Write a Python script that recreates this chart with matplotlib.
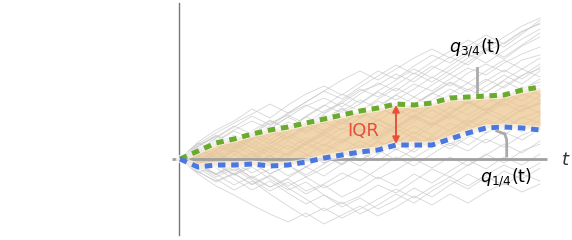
import matplotlib
matplotlib.use("Agg")
import matplotlib.pyplot as plt
import numpy as np

# time grid (steps)
t = [0, 2, 4, 6, 8, 10, 12, 14, 16, 18, 20, 22, 24, 26, 28, 30, 32, 34, 36, 38, 40]

# sample paths (values read approximately)
paths = [
    [0,1.2,0.5,1.8,2.6,1.9,3.0,4.2,3.5,4.8,5.9,5.1,6.4,7.5,6.8,8.0,9.1,8.4,9.6,10.5,11.2],
    [0,-0.8,-1.5,-0.6,-1.9,-2.8,-2.0,-3.2,-2.5,-1.4,-2.2,-1.0,0.2,-0.7,0.5,1.6,0.8,2.0,1.2,2.4,3.1],
    [0,0.9,2.0,1.2,2.5,3.6,4.4,3.5,4.8,5.6,6.8,7.4,8.5,7.7,9.0,10.2,9.4,10.8,11.6,12.8,13.5],
    [0,-1.1,-0.3,0.8,-0.2,1.0,0.3,1.5,2.4,1.6,2.8,3.9,3.0,4.1,3.3,4.5,5.6,4.8,6.0,5.2,6.3],
    [0,0.6,-0.5,-1.6,-0.8,-2.0,-3.1,-2.3,-3.6,-4.5,-3.7,-2.6,-3.4,-2.2,-1.0,-1.8,-0.6,0.5,-0.4,0.8,1.5],
    [0,1.4,2.2,3.3,2.5,3.8,3.0,4.3,5.4,4.6,5.5,6.7,5.9,7.0,8.2,7.3,8.6,9.5,8.7,9.9,10.4],
    [0,-0.5,0.6,-0.4,0.7,1.8,1.0,2.1,1.3,2.6,3.4,2.5,3.8,4.9,4.0,5.2,4.4,5.5,6.6,5.8,7.0],
    [0,0.3,1.4,0.5,-0.6,0.4,-0.8,0.3,1.5,0.7,1.8,1.0,2.2,3.3,2.4,3.6,2.8,4.0,3.1,4.2,3.6],
    [0,-1.3,-2.2,-1.4,-2.6,-1.7,-2.9,-4.0,-5.2,-4.3,-5.5,-4.6,-3.5,-4.4,-3.2,-2.1,-3.0,-1.8,-2.6,-1.5,-2.2],
    [0,1.0,0.2,1.3,2.4,1.5,2.7,3.6,2.8,4.0,3.2,4.4,5.6,4.7,5.9,7.0,6.1,7.3,8.4,7.5,8.8],
    [0,0.7,1.8,2.9,3.8,3.0,4.2,5.3,6.1,5.2,6.5,7.6,6.8,8.1,9.3,8.5,9.7,10.9,10.0,11.3,12.2],
    [0,-0.9,-0.1,-1.2,-0.3,-1.5,-0.6,0.5,-0.4,0.8,-0.1,1.1,2.0,1.2,2.3,1.5,2.6,3.7,2.9,4.1,4.8],
    [0,0.4,-0.7,0.4,1.5,0.6,1.8,0.9,2.0,3.1,2.3,3.5,2.6,3.8,4.9,4.0,5.1,6.2,5.3,6.5,5.9],
    [0,-0.4,-1.5,-2.6,-1.7,-2.8,-1.9,-0.8,-1.7,-0.5,0.6,-0.2,1.0,0.1,1.2,2.3,1.4,2.6,3.5,2.7,3.9],
    [0,1.6,0.8,2.0,1.1,2.3,3.4,2.6,3.7,2.9,4.1,5.2,4.3,5.5,6.6,5.8,7.0,6.1,7.3,8.4,9.0],
    [0,-0.2,0.9,2.0,1.2,0.3,1.4,0.5,-0.4,0.7,-0.2,0.9,-0.1,1.0,2.1,1.3,2.4,1.6,2.7,1.9,3.0],
    [0,0.8,1.9,1.0,2.2,3.3,4.5,5.4,4.6,5.8,7.0,6.2,7.4,8.6,7.7,8.9,10.1,11.0,10.2,11.4,12.6],
    [0,-0.7,-1.8,-1.0,-2.1,-3.2,-2.3,-3.5,-2.6,-3.8,-2.9,-1.8,-2.7,-1.5,-2.4,-1.2,-0.1,-1.0,0.2,-0.6,0.5],
    [0,0.5,1.6,0.7,1.9,1.0,2.2,3.3,2.4,3.6,4.7,3.8,5.0,4.1,5.3,6.4,5.5,6.7,7.8,6.9,8.0],
    [0,1.1,0.2,-0.9,0.2,1.3,0.4,1.6,2.7,1.8,3.0,2.1,3.3,4.4,3.5,4.7,5.8,4.9,6.1,7.2,6.4],
    [0,-1.0,-0.2,0.9,0.0,1.2,2.3,1.4,2.6,3.7,2.8,4.0,3.1,4.3,5.4,4.5,5.7,4.8,6.0,7.1,7.7],
    [0,0.2,-0.9,-2.0,-3.1,-2.2,-3.4,-4.5,-3.6,-4.8,-3.9,-5.0,-4.1,-2.9,-3.8,-2.6,-1.5,-2.4,-1.2,-2.0,-0.9],
    [0,1.3,2.4,1.6,2.8,3.9,3.0,4.2,5.3,6.5,5.6,6.8,7.9,9.0,8.1,9.3,10.5,9.6,10.8,12.0,13.0],
    [0,-0.6,0.5,1.6,0.7,-0.4,0.6,1.7,0.8,2.0,1.1,2.3,3.4,2.5,3.7,2.8,4.0,5.1,4.2,5.4,4.6],
    [0,0.9,0.0,1.1,2.2,3.0,2.1,3.3,4.4,3.5,4.7,5.8,5.0,6.2,5.3,6.5,7.6,6.7,7.9,9.0,8.2],
    [0,-1.2,-2.3,-1.5,-0.4,-1.5,-0.6,-1.8,-0.9,0.2,-0.7,0.5,1.6,0.7,1.9,1.0,2.2,3.3,2.4,3.6,2.8],
    [0,0.6,1.7,2.8,2.0,3.1,4.2,3.3,4.5,5.6,4.8,6.0,7.1,6.2,7.4,8.5,7.6,8.8,9.9,9.0,10.1],
    [0,-0.3,0.8,-0.3,-1.4,-0.5,-1.7,-0.8,0.3,-0.6,0.6,1.7,0.9,2.0,1.1,2.3,3.4,2.6,3.8,4.9,5.6],
    [0,1.0,2.1,3.2,4.3,3.4,4.6,5.7,6.8,6.0,7.2,8.3,9.4,8.5,9.7,10.8,11.9,11.0,12.2,13.3,14.1],
    [0,-0.5,-1.6,-0.8,-1.9,-1.0,0.1,-0.8,0.4,-0.5,0.7,1.8,1.0,2.2,1.3,2.5,3.6,4.7,3.8,5.0,5.5],
    [0,-1.5,-2.7,-3.6,-4.6,-5.5,-6.3,-5.4,-6.5,-5.6,-4.7,-5.7,-4.8,-3.7,-4.6,-3.5,-4.4,-3.3,-2.4,-3.3,-2.5],
    [0,-0.9,-2.0,-3.1,-2.2,-3.5,-4.7,-5.8,-4.9,-5.9,-5.0,-4.0,-3.0,-3.9,-2.8,-1.8,-2.7,-1.6,-0.6,-1.4,-0.4],
    [0,1.7,2.9,3.8,5.0,4.1,5.4,6.5,7.3,6.4,7.6,8.8,8.0,9.3,10.4,9.6,10.8,12.0,11.2,12.5,13.9],
    [0,0.8,-0.2,0.9,2.0,2.8,1.9,3.1,4.0,5.1,4.2,5.3,6.4,5.5,6.6,7.7,6.9,8.0,7.1,8.3,9.5],
    [0,-0.6,-1.5,-0.5,0.5,-0.5,0.6,1.5,0.6,1.7,2.8,1.9,3.0,2.1,3.3,4.3,3.4,4.5,5.6,4.7,5.8],
    [0,0.5,1.4,2.4,1.5,2.6,3.7,2.8,3.9,5.0,4.1,5.2,4.3,5.4,6.5,7.6,6.7,7.8,8.9,8.0,9.2],
    [0,-1.4,-0.5,-1.5,-2.5,-1.6,-2.7,-1.8,-2.9,-2.0,-1.0,-2.0,-1.1,0.0,-0.9,0.2,-0.7,0.4,1.5,0.6,1.8],
    [0,1.2,2.3,1.4,0.4,1.5,2.6,1.7,2.8,3.9,3.0,2.1,3.2,4.3,3.4,4.5,3.6,4.7,5.8,6.7,7.4],
    [0,0.3,-0.6,-1.6,-0.7,0.3,-0.6,-1.6,-0.5,0.5,1.4,0.5,1.6,2.7,1.8,2.9,3.9,3.0,4.2,3.3,4.4],
    [0,1.5,2.6,3.6,4.5,5.5,4.6,5.7,6.8,7.9,8.8,7.9,9.0,10.1,11.0,10.1,11.3,12.4,11.5,12.7,13.6],
]

# quartile curves
q_upper = [0,0.8,1.6,2.0,2.5,2.9,3.2,3.6,4.0,4.4,4.8,5.1,5.5,5.4,5.6,6.1,6.2,6.3,6.4,6.9,7.2]
q_lower = [0,-0.8,-0.6,-0.6,-0.5,-0.7,-0.6,-0.3,0.1,0.4,0.7,0.9,1.4,1.4,1.4,2.0,2.6,3.1,3.2,3.1,2.9]

label_upper = r'$q_{3/4}$(t)'
label_lower = r'$q_{1/4}$(t)'
label_iqr = 'IQR'
label_t = r'$t$'

fig = plt.figure(figsize=(5.72, 2.40), dpi=100)
ax = fig.add_axes([0, 0, 1, 1])
ax.set_xlim(-20, 43.556)
ax.set_ylim(-8.1, 15.9)
ax.axis('off')

for p in paths:
    ax.plot(t, p, color='#c8c8c8', lw=0.6, alpha=0.75, zorder=1)

ax.fill_between(t, q_lower, q_upper, color='#ecc58e', alpha=0.72, lw=0, zorder=2)

# axes
ax.plot([-0.11, -0.11], [-7.6, 15.6], color='#777777', lw=1.0, zorder=3)
ax.plot([-0.9, 40.8], [0, 0], color='#a0a0a0', lw=2.0, zorder=3, solid_capstyle='butt')

# quartile dashed lines with white halo
for q, c in [(q_upper, '#6aaa2c'), (q_lower, '#4a78e0')]:
    ax.plot(t, q, color='white', lw=5, alpha=0.6, zorder=4)
    ax.plot(t, q, color=c, lw=3.6, ls=(0, (1.5, 1.15)), zorder=5)

# IQR arrow
i = t.index(24)
ax.annotate('', xy=(24, q_upper[i] - 0.1), xytext=(24, q_lower[i] + 0.1),
            arrowprops=dict(arrowstyle='<|-|>', color='#e8503a', lw=1.4,
                            mutation_scale=10, shrinkA=0, shrinkB=0), zorder=6)
ax.text(20.4, 2.8, label_iqr, color='#e8503a', fontsize=13, ha='center', va='center', zorder=6)

# labels and connectors
ax.plot([33, 33], [6.7, 9.1], color='#aaaaaa', lw=2.0, zorder=6)
ax.text(32.8, 11.1, label_upper, fontsize=12.5, ha='center', va='center', zorder=6)
ax.plot([35.2, 36.1, 36.3, 36.3], [2.8, 2.5, 1.9, 0.3], color='#aaaaaa', lw=2.0, zorder=6)
ax.text(36.2, -1.9, label_lower, fontsize=12.5, ha='center', va='center', zorder=6)
ax.text(42.9, -0.1, label_t, fontsize=13, ha='center', va='center', color='#333333')

fig.savefig('out.png', dpi=100)
